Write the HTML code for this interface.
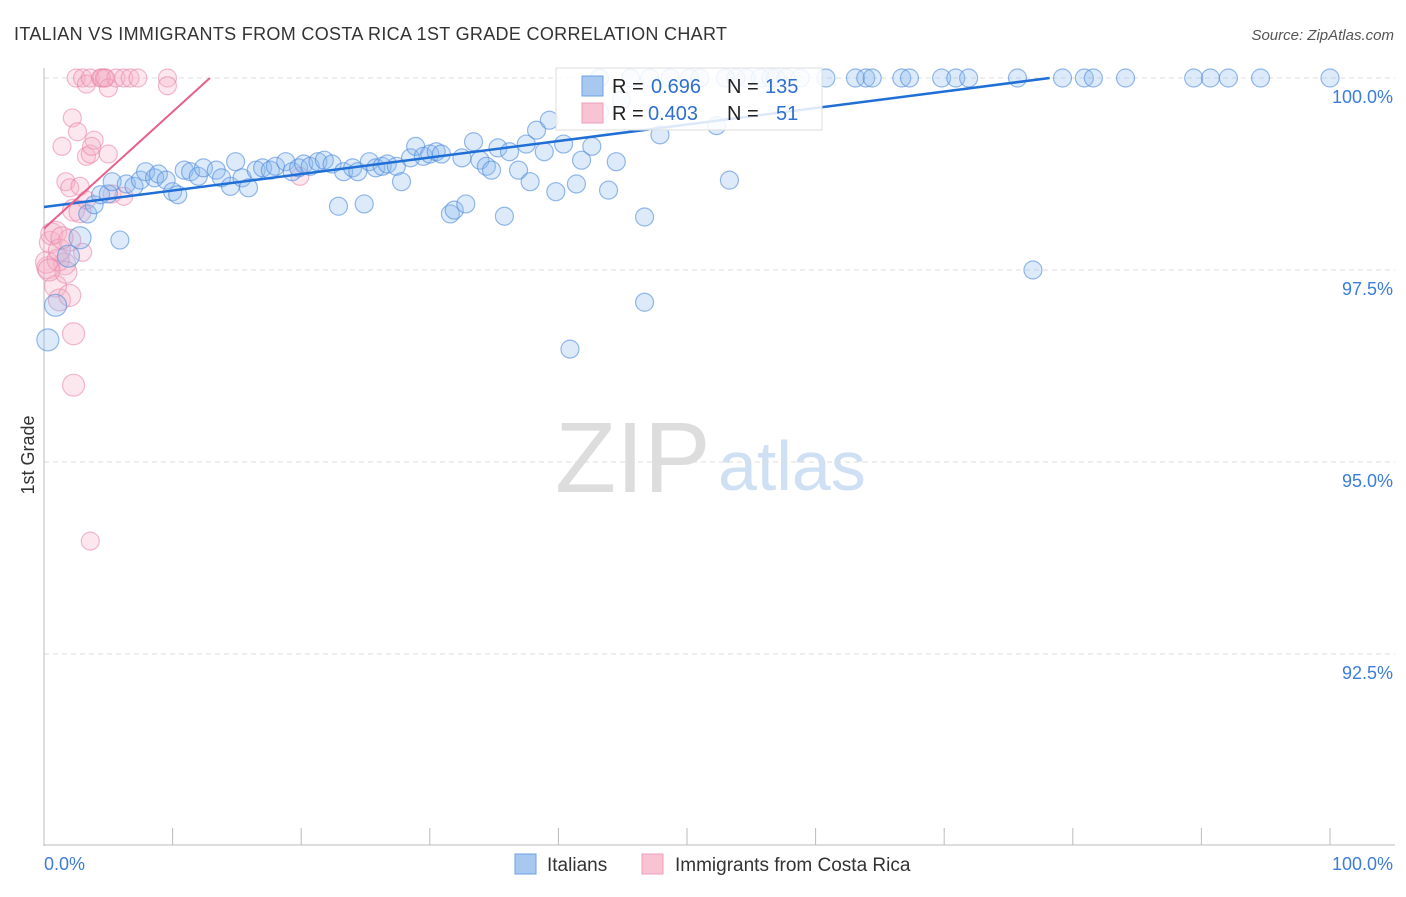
<!DOCTYPE html>
<html><head><meta charset="utf-8"><style>
body{margin:0;background:#fff;font-family:"Liberation Sans",sans-serif}
svg text{font-family:"Liberation Sans",sans-serif}
</style></head><body>
<svg id="chart" width="1406" height="892" xmlns="http://www.w3.org/2000/svg">
<text x="14" y="40" font-size="18" fill="#333" textLength="713">ITALIAN VS IMMIGRANTS FROM COSTA RICA 1ST GRADE CORRELATION CHART</text>
<text x="1394" y="40" font-size="15" fill="#555" text-anchor="end" font-style="italic">Source: ZipAtlas.com</text>
<text x="555" y="492" font-size="100" fill="#ddd" font-family="Liberation Serif">ZIP</text>
<text x="718" y="490" font-size="70" fill="#cfe0f4">atlas</text>
<g id="grid"></g>
<g id="axes"></g>
<g id="pinkPts"></g>
<g id="bluePts"></g>
<g id="lines"></g>
<text transform="translate(34,455) rotate(-90)" font-size="18" fill="#333" text-anchor="middle">1st Grade</text>
<text x="44" y="870" font-size="18" fill="#3b7dd8">0.0%</text>
<text x="1393" y="870" font-size="18" fill="#3b7dd8" text-anchor="end">100.0%</text>
<g>
<rect x="556" y="68" width="266" height="62" fill="#fff" fill-opacity="0.85" stroke="#ddd"/>
<rect x="582" y="76" width="21" height="20" fill="#a8c8f0" stroke="#6ea0e0"/>
<rect x="582" y="103" width="21" height="20" fill="#f8c4d4" stroke="#eba0b8"/>
<text x="612" y="93" font-size="20" fill="#222">R =</text>
<text x="651" y="93" font-size="20" fill="#2f6fd0">0.696</text>
<text x="727" y="93" font-size="20" fill="#222">N =</text>
<text x="765" y="93" font-size="20" fill="#2f6fd0">135</text>
<text x="612" y="120" font-size="20" fill="#222">R =</text>
<text x="648" y="120" font-size="20" fill="#2f6fd0">0.403</text>
<text x="727" y="120" font-size="20" fill="#222">N =</text>
<text x="776" y="120" font-size="20" fill="#2f6fd0">51</text>
</g>
<g>
<rect x="515" y="854" width="21" height="20" fill="#a8c8f0" stroke="#6ea0e0"/>
<text x="547" y="871" font-size="19" fill="#333">Italians</text>
<rect x="642" y="854" width="21" height="20" fill="#f8c4d4" stroke="#eba0b8"/>
<text x="675" y="871" font-size="19" fill="#333">Immigrants from Costa Rica</text>
</g>
</svg>
<script>
const yTicks=[100,97.5,95,92.5];
const yTickLabels=["100.0%","97.5%","95.0%","92.5%"];
const blueX=[0.3,0.9,1.9,2.8,5.9,3.4,3.9,4.4,5.0,5.3,6.4,7.0,7.5,7.9,8.6,8.9,9.5,10.0,10.4,10.9,11.4,12.0,12.4,13.4,13.8,14.5,14.9,15.4,15.9,16.5,17.0,17.6,18.0,18.8,19.3,19.8,20.2,20.7,21.3,21.8,22.4,22.9,23.3,24.0,24.4,24.9,25.3,25.8,26.3,26.7,27.4,27.8,28.5,28.9,29.5,30.0,30.5,30.9,31.6,31.9,32.5,32.8,33.4,33.9,34.4,34.8,35.3,35.8,36.2,36.9,37.5,37.8,38.3,38.9,39.3,39.8,40.4,40.9,41.4,41.8,42.6,43.2,43.9,44.5,44.9,46.7,46.7,47.9,52.3,53.3,76.9,
43.2,45.6,47.1,48.7,50.2,51.0,53.0,53.8,54.6,55.7,56.5,56.9,57.7,58.8,60.8,63.1,63.9,64.4,66.7,67.3,69.8,70.9,71.9,75.7,79.2,80.9,81.6,84.1,89.4,90.7,92.1,94.6,100];
const blueY=[96.59,97.04,97.68,97.92,97.89,98.23,98.35,98.48,98.49,98.65,98.62,98.59,98.67,98.78,98.70,98.75,98.67,98.52,98.48,98.80,98.78,98.72,98.83,98.80,98.70,98.59,98.91,98.70,98.57,98.80,98.83,98.80,98.85,98.91,98.78,98.83,98.88,98.85,98.91,98.93,98.88,98.33,98.78,98.83,98.78,98.36,98.91,98.83,98.85,98.88,98.85,98.65,98.96,99.11,98.98,99.01,99.04,99.01,98.23,98.28,98.96,98.36,99.17,98.93,98.85,98.80,99.09,98.20,99.04,98.80,99.14,98.65,99.32,99.04,99.45,98.52,99.14,96.47,98.62,98.93,99.11,99.56,98.54,98.91,99.71,98.19,97.08,99.26,99.38,98.67,97.50,
100,100,100,100,100,100,100,100,100,100,100,100,100,100,100,100,100,100,100,100,100,100,100,100,100,100,100,100,100,100,100,100,100];
const pinkX=[0.9,1.2,1.6,2.0,2.3,2.3,3.6,0.3,0.2,0.5,0.6,0.9,1.1,1.2,1.7,2.0,3.0,1.4,1.7,2.0,2.2,2.6,2.8,3.3,3.6,3.9,3.7,5.0,2.3,2.8,3.3,5.3,6.2,2.5,3.0,3.3,3.6,4.4,4.5,4.8,5.0,5.6,6.2,6.7,7.3,9.6,9.6,4.7,19.9,1.4,0.4];
const pinkY=[97.29,97.11,97.58,97.17,96.67,96.0,93.97,97.53,97.60,97.86,97.97,97.99,97.63,97.76,97.47,97.89,97.73,99.11,98.65,98.57,99.48,99.30,98.59,98.98,99.01,99.19,99.11,99.01,98.28,98.26,98.41,98.49,98.46,100,100,99.92,100,100,100,100,99.87,100,100,100,100,100,99.9,100,98.72,97.92,97.5];
const blueTrend=[[0,98.32],[78.2,100]];
const pinkTrend=[[0,98.04],[12.9,100]];
const xs=v=>44+v*12.86, ys=v=>78+(100-v)*76.8;
const NS="http://www.w3.org/2000/svg";
function mk(tag,attrs,parent){const e=document.createElementNS(NS,tag);for(const k in attrs)e.setAttribute(k,attrs[k]);parent.appendChild(e);return e;}
const grid=document.getElementById('grid');
yTicks.forEach((t,i)=>{
 const l=mk('line',{x1:44,x2:1395,y1:ys(t),y2:ys(t),stroke:'#ddd','stroke-dasharray':'5,4'},grid);
 
 
 const tx=mk('text',{x:1393,y:ys(t)+25,'font-size':18,fill:'#3b7dd8','text-anchor':'end'},grid);
 tx.textContent=yTickLabels[i];
 
 
});
const ax=document.getElementById('axes');
const yl=mk('line',{x1:44,x2:44,y1:68,y2:846,stroke:'#bbb'},ax);


const xl=mk('line',{x1:44,x2:1395,y1:845,y2:845,stroke:'#bbb'},ax);


for(let k=0;k<=10;k++){const t=mk('line',{x1:xs(k*10),x2:xs(k*10),y1:828,y2:845,stroke:'#bbb'},ax);
 
 }
function pts(X,Y,g,fill,stroke,name){X.forEach((x,i)=>{const r=(x<3&&Y[i]<98.5)?11:9;
 const c=mk('circle',{cx:xs(x),cy:ys(Y[i]),r:r,fill:fill,stroke:stroke,'stroke-width':1.2},document.getElementById(g));
 
 });}
pts(pinkX,pinkY,'pinkPts','rgba(246,175,200,0.3)','rgba(232,130,165,0.55)','costa-rica-point');
pts(blueX,blueY,'bluePts','rgba(140,185,240,0.3)','rgba(80,140,220,0.6)','italian-point');
const lg=document.getElementById('lines');
const bl=mk('line',{x1:xs(blueTrend[0][0]),y1:ys(blueTrend[0][1]),x2:xs(blueTrend[1][0]),y2:ys(blueTrend[1][1]),stroke:'#1f6fd6','stroke-width':2.5},lg);


const pl=mk('line',{x1:xs(pinkTrend[0][0]),y1:ys(pinkTrend[0][1]),x2:xs(pinkTrend[1][0]),y2:ys(pinkTrend[1][1]),stroke:'#e8608a','stroke-width':2},lg);


</script>
</body></html>
